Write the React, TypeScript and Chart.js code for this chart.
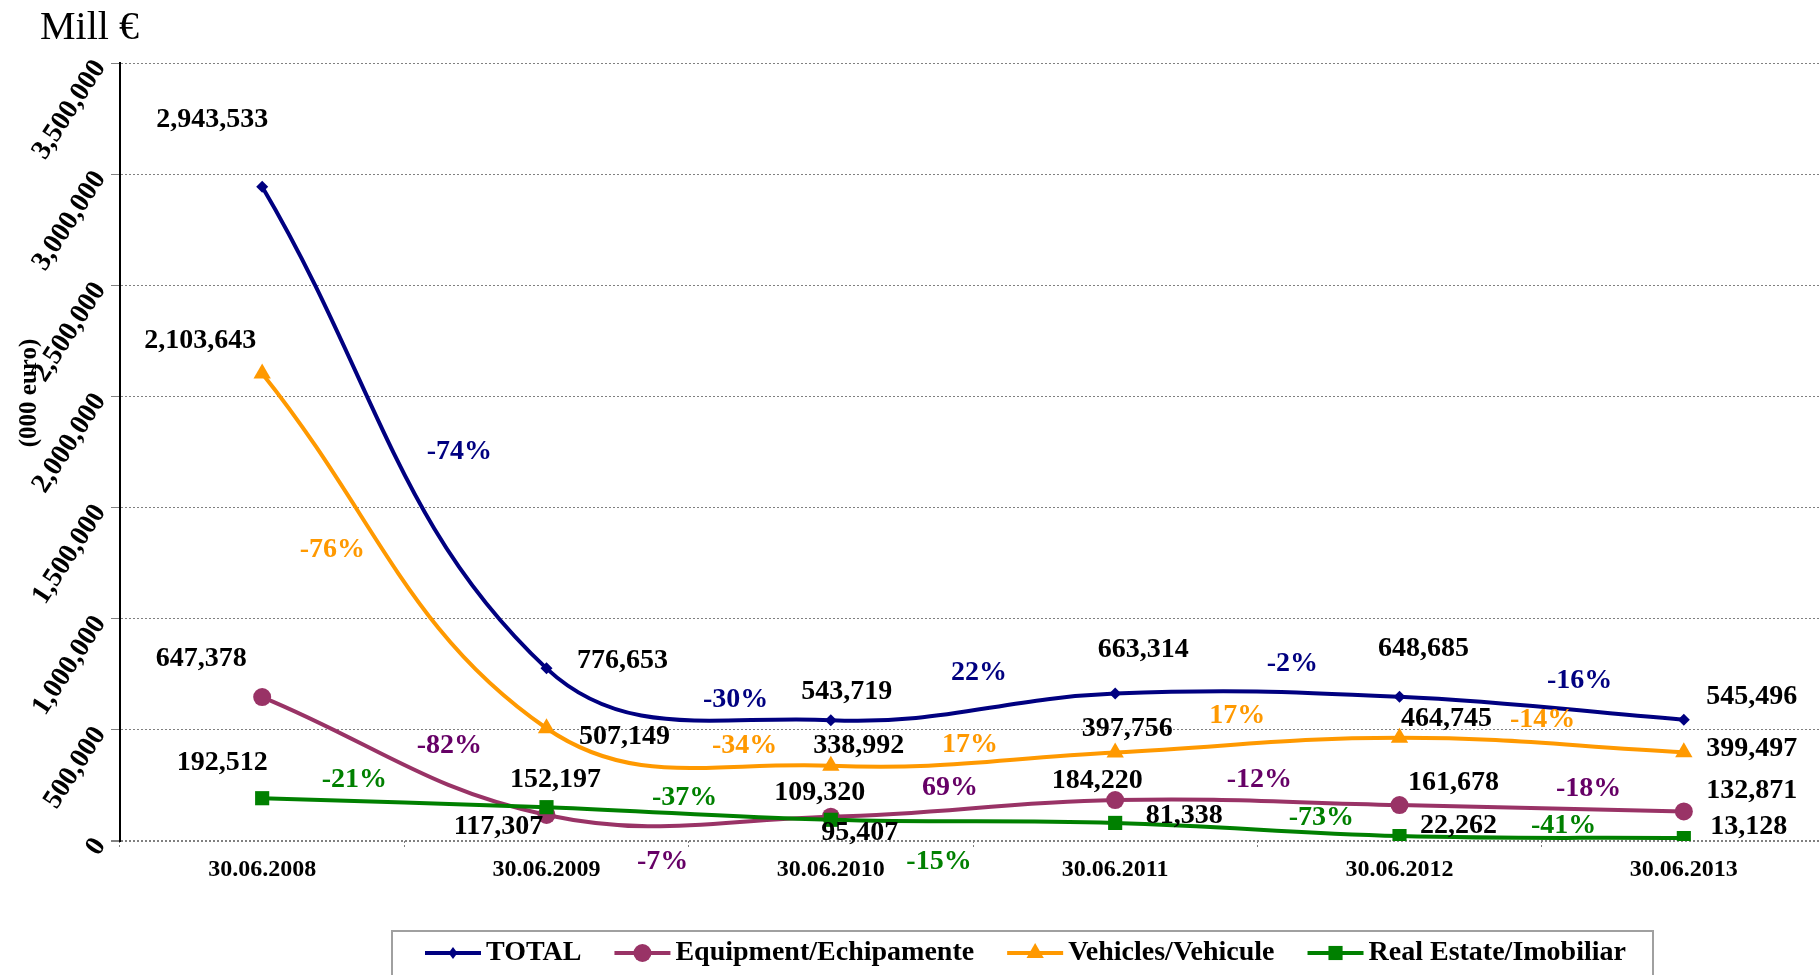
import React, { useEffect, useRef } from 'react';
import { Chart, registerables } from 'chart.js';

Chart.register(...registerables);

// ---------- data ----------
const categories = ['30.06.2008', '30.06.2009', '30.06.2010', '30.06.2011', '30.06.2012', '30.06.2013'];
const seriesNames = ['TOTAL', 'Equipment/Echipamente', 'Vehicles/Vehicule', 'Real Estate/Imobiliar'];
const totalValues = [2943533, 776653, 543719, 663314, 648685, 545496];
const equipmentValues = [647378, 117307, 109320, 184220, 161678, 132871];
const vehiclesValues = [2103643, 507149, 338992, 397756, 464745, 399497];
const realEstateValues = [192512, 152197, 95407, 81338, 22262, 13128];
const totalChanges = ['-74%', '-30%', '22%', '-2%', '-16%'];
const equipmentChanges = ['-82%', '-7%', '69%', '-12%', '-18%'];
const vehiclesChanges = ['-76%', '-34%', '17%', '17%', '-14%'];
const realEstateChanges = ['-21%', '-37%', '-15%', '-73%', '-41%'];
const yMin = 0;
const yMax = 3500000;
const yStep = 500000;
const yAxisTitle = '(000 euro)';
const unitTitle = 'Mill €';

// ---------- styles / layout ----------
const FONT = '"Liberation Serif", "Times New Roman", Times, serif';
const lineColors = ['#000080', '#993366', '#FF9900', '#008000'];
const changeColors = ['#000080', '#660066', '#FF9900', '#008000'];
const pointStyles = ['rectRot', 'circle', 'triangle', 'rect'];
const pointRadii = [6, 9, 10, 10];
const drawOrder = [3, 2, 1, 0];

// label offsets relative to the point (value) or to the segment midpoint (change)
const valueOffsets = [
  [[-50, -67], [76, -8], [16, -28], [28, -44], [24, -48], [68, -23]],
  [[-61, -38], [-48, 12], [-11, -24], [-18, -19], [54, -22], [68, -21]],
  [[-62, -33], [78, 8], [28, -20], [12, -24], [47, -19], [68, -3]],
  [[-40, -35], [9, -27], [29, 13], [69, -7], [59, -10], [65, -11]],
];
const changeOffsets = [
  [[55, 24], [47, 6], [6, -34], [35, -31], [38, -28]],
  [[45, -10], [-26, 46], [-23, -21], [2, -23], [47, -19]],
  [[-72, -1], [56, -1], [-3, -14], [-20, -29], [1, -25]],
  [[-50, -23], [-4, -16], [-34, 40], [64, -12], [22, -11]],
];

const allValues = [totalValues, equipmentValues, vehiclesValues, realEstateValues];
const allChanges = [totalChanges, equipmentChanges, vehiclesChanges, realEstateChanges];

function fmt(v: number) {
  return v.toLocaleString('en-US');
}

function drawMarker(ctx: CanvasRenderingContext2D, style: string, x: number, y: number, r: number, color: string) {
  ctx.save();
  ctx.fillStyle = color;
  ctx.beginPath();
  if (style === 'circle') {
    ctx.arc(x, y, r, 0, Math.PI * 2);
  } else if (style === 'rectRot') {
    ctx.moveTo(x, y - r);
    ctx.lineTo(x + r * 0.75, y);
    ctx.lineTo(x, y + r);
    ctx.lineTo(x - r * 0.75, y);
    ctx.closePath();
  } else if (style === 'triangle') {
    ctx.moveTo(x, y - r);
    ctx.lineTo(x + r * 0.866, y + r * 0.5);
    ctx.lineTo(x - r * 0.866, y + r * 0.5);
    ctx.closePath();
  } else {
    const s = r * Math.SQRT1_2;
    ctx.rect(x - s, y - s, 2 * s, 2 * s);
  }
  ctx.fill();
  ctx.restore();
}

const overlayPlugin = {
  id: 'overlayLabels',
  afterDatasetsDraw(chart: any) {
    const ctx: CanvasRenderingContext2D = chart.ctx;
    ctx.save();
    ctx.textAlign = 'center';
    ctx.textBaseline = 'middle';
    ctx.font = `bold 28px ${FONT}`;
    allValues.forEach((vals, i) => {
      const pts = chart.getDatasetMeta(i).data;
      vals.forEach((v, j) => {
        const p = pts[j];
        const o = valueOffsets[i][j];
        ctx.fillStyle = '#000000';
        ctx.fillText(fmt(v), p.x + o[0], p.y + o[1]);
      });
      allChanges[i].forEach((c, j) => {
        const a = pts[j];
        const b = pts[j + 1];
        const o = changeOffsets[i][j];
        ctx.fillStyle = changeColors[i];
        ctx.fillText(c, (a.x + b.x) / 2 + o[0], (a.y + b.y) / 2 + o[1]);
      });
    });
    ctx.restore();
  },
  afterDraw(chart: any) {
    const ctx: CanvasRenderingContext2D = chart.ctx;
    ctx.save();
    // unit title
    ctx.fillStyle = '#000';
    ctx.font = `40px ${FONT}`;
    ctx.textAlign = 'left';
    ctx.textBaseline = 'alphabetic';
    ctx.fillText(unitTitle, 40, 39);
    // y axis title
    ctx.save();
    ctx.translate(30, 393);
    ctx.rotate(-Math.PI / 2);
    ctx.font = `bold 25px ${FONT}`;
    ctx.textAlign = 'center';
    ctx.textBaseline = 'middle';
    ctx.fillText(yAxisTitle, 0, 0);
    ctx.restore();
    // legend box
    ctx.strokeStyle = '#a0a0a0';
    ctx.lineWidth = 2;
    ctx.strokeRect(392, 931, 1261, 80);
    ctx.font = `bold 28px ${FONT}`;
    ctx.textBaseline = 'middle';
    ctx.textAlign = 'left';
    let x = 425;
    const y = 953;
    seriesNames.forEach((name, i) => {
      ctx.strokeStyle = lineColors[i];
      ctx.lineWidth = 4;
      ctx.beginPath();
      ctx.moveTo(x, y);
      ctx.lineTo(x + 56, y);
      ctx.stroke();
      drawMarker(ctx, pointStyles[i], x + 28, y, pointRadii[i], lineColors[i]);
      ctx.fillStyle = '#000';
      ctx.fillText(name, x + 61, y);
      x += 61 + ctx.measureText(name).width + 33;
    });
    ctx.restore();
  },
};

export default function App() {
  const ref = useRef<HTMLCanvasElement>(null);
  useEffect(() => {
    if (!ref.current) return;
    const chart = new Chart(ref.current, {
      type: 'line',
      data: {
        labels: categories,
        datasets: allValues.map((vals, i) => ({
          label: seriesNames[i],
          data: vals,
          borderColor: lineColors[i],
          backgroundColor: lineColors[i],
          pointBackgroundColor: lineColors[i],
          pointBorderColor: lineColors[i],
          pointBorderWidth: 0,
          pointStyle: pointStyles[i] as any,
          pointRadius: pointRadii[i],
          borderWidth: 4,
          tension: 0.4,
          fill: false,
          order: drawOrder[i],
        })),
      },
      options: {
        animation: false,
        responsive: false,
        devicePixelRatio: 1,
        layout: { padding: { left: 0, top: 63, right: 0, bottom: 74 } },
        plugins: { legend: { display: false }, tooltip: { enabled: false }, title: { display: false } },
        scales: {
          x: {
            type: 'category',
            offset: true,
            afterFit: (s: any) => { s.height = 60; },
            border: { display: false },
            grid: {
              offset: true,
              drawOnChartArea: false,
              drawTicks: true,
              tickLength: 6,
              tickColor: '#808080',
              tickBorderDash: [2, 2],
            },
            ticks: {
              color: '#000',
              font: { family: FONT, size: 24, weight: 'bold' },
              padding: 8,
              maxRotation: 0,
              minRotation: 0,
            },
          },
          y: {
            min: yMin,
            max: yMax,
            afterFit: (s: any) => { s.width = 120; },
            border: { display: true, color: '#000', width: 2, dash: [2, 2] },
            grid: {
              color: '#808080',
              lineWidth: (c: any) => (c.tick && c.tick.value === 0 ? 2 : 1),
              drawTicks: true,
              tickLength: 9,
              tickColor: '#808080',
            },
            ticks: {
              stepSize: yStep,
              autoSkip: false,
              minRotation: 57,
              maxRotation: 57,
              padding: 11,
              color: '#000',
              font: { family: FONT, size: 28, weight: 'bold' },
              callback: (v: any) => fmt(Number(v)),
            },
          },
        },
      },
      plugins: [overlayPlugin],
    } as any);
    return () => chart.destroy();
  }, []);
  return (
    <div style={{ position: 'fixed', left: 0, top: 0, width: 1820, height: 975, overflow: 'hidden', background: '#fff' }}>
      <canvas ref={ref} width={1836} height={975} style={{ display: 'block', width: 1836, height: 975 }} />
    </div>
  );
}
